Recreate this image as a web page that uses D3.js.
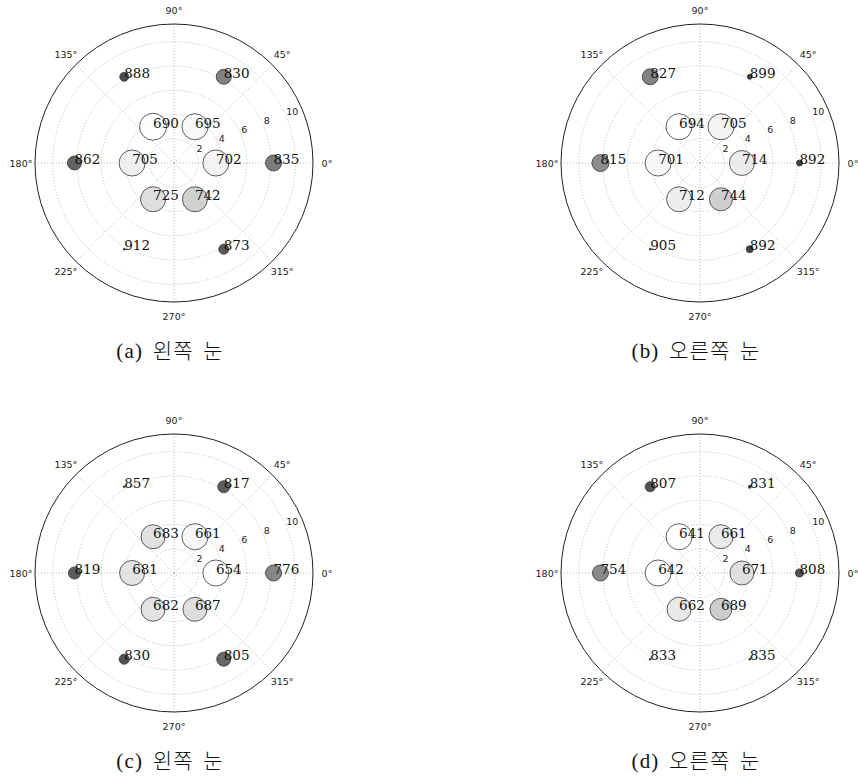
<!DOCTYPE html>
<html>
<head>
<meta charset="utf-8">
<script src="https://cdn.jsdelivr.net/npm/d3@7"></script>
<style>
  body { margin: 0; background: #fff; }
  svg { display: block; }
</style>
</head>
<body>
<div id="container"></div>
<script>
// target positions: angle (deg) and eccentricity, 6 inner + 6 outer
const theta = [0, 60, 120, 180, 240, 300, 0, 60, 120, 180, 240, 300];
const ecc = [3.45, 3.45, 3.45, 3.45, 3.45, 3.45, 8.2, 8.2, 8.2, 8.2, 8.2, 8.2];

// values shown as labels (colour), and rate used for marker size
const rtA = [702, 695, 690, 705, 725, 742, 835, 830, 888, 862, 912, 873];
const rateA = [93, 93, 100, 93, 86, 86, 35, 31, 11, 27, 0.5, 14];

const rtB = [714, 705, 694, 701, 712, 744, 892, 899, 827, 815, 905, 892];
const rateB = [86, 93, 93, 93, 86, 73, 5, 3.4, 35, 40, 0.5, 6.7];

const rtC = [654, 661, 683, 681, 682, 687, 776, 817, 857, 819, 830, 805];
const rateC = [93, 93, 79, 86, 79, 79, 35, 20, 0.5, 20, 14, 27];

const rtD = [671, 661, 641, 642, 662, 689, 808, 831, 807, 754, 833, 835];
const rateD = [79, 79, 93, 93, 79, 66, 9, 1.2, 14, 35, 0.5, 0.5];

const rTicks = [2, 4, 6, 8, 10];
const angleTicks = [0, 45, 90, 135, 180, 225, 270, 315];
const captions = ["(a) 왼쪽 눈", "(b) 오른쪽 눈", "(c) 왼쪽 눈", "(d) 오른쪽 눈"];

let width = 858;
let height = 778;

let svg = d3.select("#container")
    .append("svg")
    .attr("width", width)
    .attr("height", height);

let panels = [
    { cx: 174, cy: 163, rt: rtA, rate: rateA, cap: captions[0] },
    { cx: 700, cy: 163, rt: rtB, rate: rateB, cap: captions[1] },
    { cx: 174, cy: 573, rt: rtC, rate: rateC, cap: captions[2] },
    { cx: 700, cy: 573, rt: rtD, rate: rateD, cap: captions[3] }
];

let rmax = 11.45;
let R = 139;
let rScale = d3.scaleLinear().domain([0, rmax]).range([0, R]);
let sizeScale = d3.scaleSqrt().domain([0, 100]).range([0, 13.5]);
let rad = d => d * Math.PI / 180;

panels.forEach(p => {
    let g = svg.append("g").attr("transform", `translate(${p.cx},${p.cy})`);

    //grid rings
    g.selectAll("circle.ring")
        .data(rTicks)
        .enter()
        .append("circle")
        .attr("class", "ring")
        .attr("r", d => rScale(d))
        .attr("fill", "none")
        .attr("stroke", "#aaa")
        .attr("stroke-width", 0.8)
        .attr("stroke-dasharray", "1,2");

    //spokes
    g.selectAll("line.spoke")
        .data(angleTicks)
        .enter()
        .append("line")
        .attr("x1", 0).attr("y1", 0)
        .attr("x2", d => R * Math.cos(rad(d)))
        .attr("y2", d => -R * Math.sin(rad(d)))
        .attr("stroke", "#aaa")
        .attr("stroke-width", 0.8)
        .attr("stroke-dasharray", "1,2");

    //outer frame
    g.append("circle")
        .attr("r", R)
        .attr("fill", "none")
        .attr("stroke", "#222")
        .attr("stroke-width", 1);

    //angle labels
    g.selectAll("text.ang")
        .data(angleTicks)
        .enter()
        .append("text")
        .attr("x", d => (R + 14) * Math.cos(rad(d)))
        .attr("y", d => -(R + 14) * Math.sin(rad(d)))
        .attr("text-anchor", "middle")
        .attr("dominant-baseline", "central")
        .attr("font-family", "DejaVu Sans")
        .attr("font-size", 9.5)
        .attr("fill", "#222")
        .text(d => d + "°");

    //radial labels
    g.selectAll("text.rt")
        .data(rTicks)
        .enter()
        .append("text")
        .attr("x", d => rScale(d) * Math.cos(rad(22.5)))
        .attr("y", d => -rScale(d) * Math.sin(rad(22.5)) - 2)
        .attr("font-family", "DejaVu Sans")
        .attr("font-size", 9.5)
        .attr("fill", "#222")
        .text(d => d);

    let color = d3.scaleLinear().domain(d3.extent(p.rt)).range(["#ffffff", "#000000"]);
    let pts = p.rt.map((v, i) => ({ a: theta[i], e: ecc[i], v: v, s: p.rate[i] }));

    //markers
    g.selectAll("circle.pt")
        .data(pts)
        .enter()
        .append("circle")
        .attr("cx", d => rScale(d.e) * Math.cos(rad(d.a)))
        .attr("cy", d => -rScale(d.e) * Math.sin(rad(d.a)))
        .attr("r", d => sizeScale(d.s))
        .attr("fill", d => color(d.v))
        .attr("stroke", "#000")
        .attr("stroke-width", 0.8)
        .style("opacity", 0.78);

    //value labels
    g.selectAll("text.val")
        .data(pts)
        .enter()
        .append("text")
        .attr("x", d => rScale(d.e) * Math.cos(rad(d.a)))
        .attr("y", d => -rScale(d.e) * Math.sin(rad(d.a)) + 1)
        .attr("font-family", "DejaVu Serif")
        .attr("font-size", 13.5)
        .attr("fill", "#111")
        .text(d => d.v);

    //caption
    svg.append("text")
        .attr("x", p.cx - 4)
        .attr("y", p.cy + 195)
        .attr("text-anchor", "middle")
        .attr("font-family", "Liberation Serif, Noto Sans CJK KR")
        .attr("font-size", 21)
        .attr("font-weight", 300)
        .attr("letter-spacing", 1.2)
        .attr("word-spacing", 3)
        .attr("fill", "#111")
        .text(p.cap);
});
</script>
</body>
</html>
